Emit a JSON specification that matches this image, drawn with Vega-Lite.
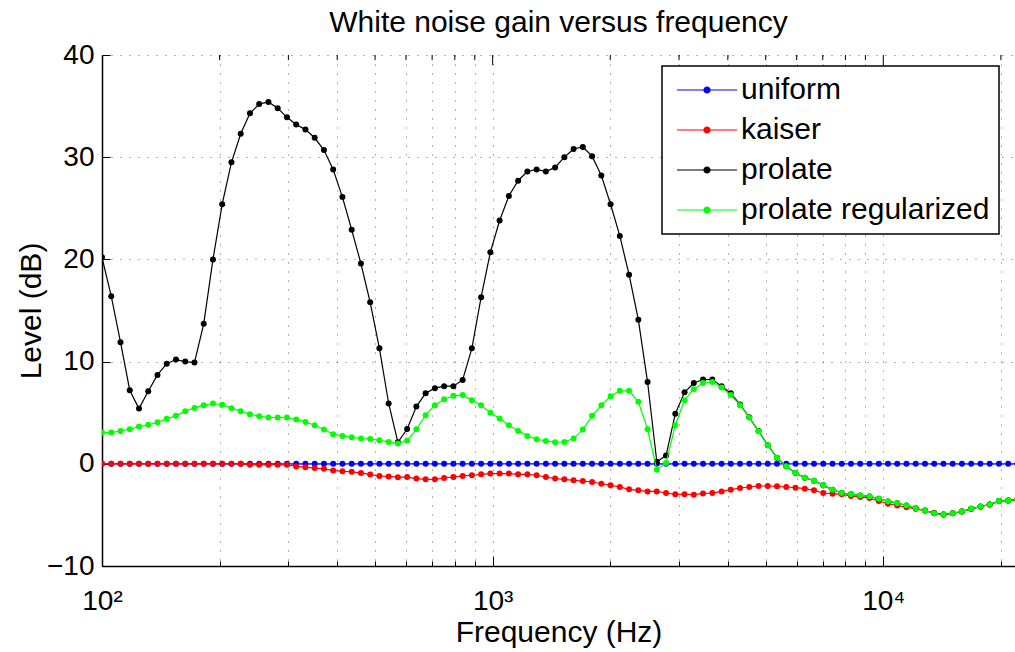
{
  "$schema": "https://vega.github.io/schema/vega-lite/v6.json",
  "width": 913,
  "height": 511,
  "autosize": {"type": "none"},
  "padding": {"left": 102, "top": 55, "right": 0, "bottom": 86},
  "background": "white",
  "title": {"text": "White noise gain versus frequency", "fontSize": 30, "font": "Liberation Sans", "fontWeight": "normal", "color": "black", "anchor": "middle", "baseline": "alphabetic", "offset": -21, "frame": "group"},
  "datasets": {
    "gain": [
      {"f": 100, "uniform": 0, "kaiser": 0, "prolate": 20.2, "prolate regularized": 3.06},
      {"f": 105.6, "uniform": 0, "kaiser": 0, "prolate": 16.4, "prolate regularized": 3.06},
      {"f": 111.52, "uniform": 0, "kaiser": 0, "prolate": 11.9, "prolate regularized": 3.22},
      {"f": 117.76, "uniform": 0, "kaiser": 0, "prolate": 7.2, "prolate regularized": 3.38},
      {"f": 124.36, "uniform": 0, "kaiser": 0, "prolate": 5.4, "prolate regularized": 3.64},
      {"f": 131.33, "uniform": 0, "kaiser": 0, "prolate": 7.1, "prolate regularized": 3.81},
      {"f": 138.68, "uniform": 0, "kaiser": 0, "prolate": 8.7, "prolate regularized": 4.07},
      {"f": 146.45, "uniform": 0, "kaiser": 0, "prolate": 9.8, "prolate regularized": 4.4},
      {"f": 154.66, "uniform": 0, "kaiser": 0, "prolate": 10.2, "prolate regularized": 4.69},
      {"f": 163.32, "uniform": 0, "kaiser": 0, "prolate": 10.0, "prolate regularized": 5.15},
      {"f": 172.47, "uniform": 0, "kaiser": 0, "prolate": 9.9, "prolate regularized": 5.47},
      {"f": 182.13, "uniform": 0, "kaiser": 0, "prolate": 13.7, "prolate regularized": 5.74},
      {"f": 192.33, "uniform": 0, "kaiser": 0, "prolate": 20.0, "prolate regularized": 5.9},
      {"f": 203.11, "uniform": 0, "kaiser": 0, "prolate": 25.4, "prolate regularized": 5.77},
      {"f": 214.48, "uniform": 0, "kaiser": 0, "prolate": 29.5, "prolate regularized": 5.44},
      {"f": 226.5, "uniform": 0, "kaiser": 0, "prolate": 32.3, "prolate regularized": 5.15},
      {"f": 239.19, "uniform": 0, "kaiser": -0.1, "prolate": 34.3, "prolate regularized": 4.85},
      {"f": 252.58, "uniform": 0, "kaiser": -0.1, "prolate": 35.2, "prolate regularized": 4.66},
      {"f": 266.73, "uniform": 0, "kaiser": -0.1, "prolate": 35.4, "prolate regularized": 4.53},
      {"f": 281.67, "uniform": 0, "kaiser": -0.1, "prolate": 34.8, "prolate regularized": 4.53},
      {"f": 297.45, "uniform": 0, "kaiser": -0.1, "prolate": 33.9, "prolate regularized": 4.53},
      {"f": 314.11, "uniform": 0, "kaiser": -0.26, "prolate": 33.2, "prolate regularized": 4.33},
      {"f": 331.71, "uniform": 0, "kaiser": -0.33, "prolate": 32.7, "prolate regularized": 4.1},
      {"f": 350.29, "uniform": 0, "kaiser": -0.42, "prolate": 31.9, "prolate regularized": 3.77},
      {"f": 369.91, "uniform": 0, "kaiser": -0.49, "prolate": 30.7, "prolate regularized": 3.35},
      {"f": 390.63, "uniform": 0, "kaiser": -0.65, "prolate": 28.8, "prolate regularized": 2.89},
      {"f": 412.51, "uniform": 0, "kaiser": -0.74, "prolate": 26.1, "prolate regularized": 2.73},
      {"f": 435.62, "uniform": 0, "kaiser": -0.78, "prolate": 22.9, "prolate regularized": 2.6},
      {"f": 460.02, "uniform": 0, "kaiser": -0.91, "prolate": 19.6, "prolate regularized": 2.47},
      {"f": 485.79, "uniform": 0, "kaiser": -1.04, "prolate": 15.8, "prolate regularized": 2.43},
      {"f": 513.01, "uniform": 0, "kaiser": -1.2, "prolate": 11.3, "prolate regularized": 2.3},
      {"f": 541.75, "uniform": 0, "kaiser": -1.24, "prolate": 5.9, "prolate regularized": 2.14},
      {"f": 572.09, "uniform": 0, "kaiser": -1.31, "prolate": 2.1, "prolate regularized": 1.98},
      {"f": 604.14, "uniform": 0, "kaiser": -1.3, "prolate": 3.4, "prolate regularized": 2.27},
      {"f": 637.98, "uniform": 0, "kaiser": -1.45, "prolate": 5.6, "prolate regularized": 3.38},
      {"f": 673.72, "uniform": 0, "kaiser": -1.52, "prolate": 6.9, "prolate regularized": 4.76},
      {"f": 711.46, "uniform": 0, "kaiser": -1.52, "prolate": 7.4, "prolate regularized": 5.74},
      {"f": 751.31, "uniform": 0, "kaiser": -1.39, "prolate": 7.6, "prolate regularized": 6.32},
      {"f": 793.4, "uniform": 0, "kaiser": -1.29, "prolate": 7.6, "prolate regularized": 6.65},
      {"f": 837.84, "uniform": 0, "kaiser": -1.19, "prolate": 8.2, "prolate regularized": 6.72},
      {"f": 884.77, "uniform": 0, "kaiser": -1.12, "prolate": 11.3, "prolate regularized": 6.23},
      {"f": 934.33, "uniform": 0, "kaiser": -1.03, "prolate": 16.3, "prolate regularized": 5.74},
      {"f": 986.67, "uniform": 0, "kaiser": -0.96, "prolate": 20.7, "prolate regularized": 4.99},
      {"f": 1041.9, "uniform": 0, "kaiser": -0.96, "prolate": 23.8, "prolate regularized": 4.43},
      {"f": 1100.3, "uniform": 0, "kaiser": -0.96, "prolate": 26.2, "prolate regularized": 3.77},
      {"f": 1161.9, "uniform": 0, "kaiser": -1.03, "prolate": 27.7, "prolate regularized": 3.22},
      {"f": 1227, "uniform": 0, "kaiser": -1.03, "prolate": 28.6, "prolate regularized": 2.73},
      {"f": 1295.8, "uniform": 0, "kaiser": -1.12, "prolate": 28.8, "prolate regularized": 2.4},
      {"f": 1368.4, "uniform": 0, "kaiser": -1.29, "prolate": 28.6, "prolate regularized": 2.24},
      {"f": 1445, "uniform": 0, "kaiser": -1.45, "prolate": 29.0, "prolate regularized": 2.11},
      {"f": 1526, "uniform": 0, "kaiser": -1.52, "prolate": 30.0, "prolate regularized": 2.14},
      {"f": 1611.4, "uniform": 0, "kaiser": -1.62, "prolate": 30.8, "prolate regularized": 2.47},
      {"f": 1701.7, "uniform": 0, "kaiser": -1.69, "prolate": 31.0, "prolate regularized": 3.35},
      {"f": 1797, "uniform": 0, "kaiser": -1.78, "prolate": 30.1, "prolate regularized": 4.69},
      {"f": 1897.7, "uniform": 0, "kaiser": -1.95, "prolate": 28.2, "prolate regularized": 5.74},
      {"f": 2004, "uniform": 0, "kaiser": -2.11, "prolate": 25.4, "prolate regularized": 6.62},
      {"f": 2116.2, "uniform": 0, "kaiser": -2.27, "prolate": 22.3, "prolate regularized": 7.14},
      {"f": 2234.8, "uniform": 0, "kaiser": -2.5, "prolate": 18.5, "prolate regularized": 7.14},
      {"f": 2360, "uniform": 0, "kaiser": -2.6, "prolate": 14.1, "prolate regularized": 6.06},
      {"f": 2492.2, "uniform": 0, "kaiser": -2.7, "prolate": 8.0, "prolate regularized": 3.38},
      {"f": 2631.8, "uniform": 0, "kaiser": -2.7, "prolate": 0.2, "prolate regularized": -0.57},
      {"f": 2779.2, "uniform": 0, "kaiser": -2.86, "prolate": 0.8, "prolate regularized": 0.08},
      {"f": 2934.9, "uniform": 0, "kaiser": -2.99, "prolate": 4.9, "prolate regularized": 3.77},
      {"f": 3099.3, "uniform": 0, "kaiser": -2.99, "prolate": 7.0, "prolate regularized": 6.23},
      {"f": 3272.9, "uniform": 0, "kaiser": -3.02, "prolate": 7.9, "prolate regularized": 7.3},
      {"f": 3456.2, "uniform": 0, "kaiser": -2.9, "prolate": 8.25, "prolate regularized": 7.9},
      {"f": 3649.8, "uniform": 0, "kaiser": -2.86, "prolate": 8.25, "prolate regularized": 8.0},
      {"f": 3854.3, "uniform": 0, "kaiser": -2.7, "prolate": 7.6, "prolate regularized": 7.47},
      {"f": 4070.2, "uniform": 0, "kaiser": -2.53, "prolate": 6.9, "prolate regularized": 6.72},
      {"f": 4298.2, "uniform": 0, "kaiser": -2.37, "prolate": 5.8, "prolate regularized": 5.74},
      {"f": 4539, "uniform": 0, "kaiser": -2.27, "prolate": 4.55, "prolate regularized": 4.53},
      {"f": 4793.3, "uniform": 0, "kaiser": -2.17, "prolate": 3.2, "prolate regularized": 3.19},
      {"f": 5061.8, "uniform": 0, "kaiser": -2.17, "prolate": 1.82, "prolate regularized": 1.81},
      {"f": 5345.3, "uniform": 0, "kaiser": -2.2, "prolate": 0.6, "prolate regularized": 0.6},
      {"f": 5644.7, "uniform": 0, "kaiser": -2.27, "prolate": -0.25, "prolate regularized": -0.25},
      {"f": 5960.9, "uniform": 0, "kaiser": -2.34, "prolate": -0.91, "prolate regularized": -0.91},
      {"f": 6294.9, "uniform": 0, "kaiser": -2.43, "prolate": -1.37, "prolate regularized": -1.37},
      {"f": 6647.5, "uniform": 0, "kaiser": -2.6, "prolate": -1.65, "prolate regularized": -1.65},
      {"f": 7019.9, "uniform": 0, "kaiser": -2.86, "prolate": -2.11, "prolate regularized": -2.11},
      {"f": 7413.1, "uniform": 0, "kaiser": -2.92, "prolate": -2.53, "prolate regularized": -2.53},
      {"f": 7828.4, "uniform": 0, "kaiser": -2.99, "prolate": -2.86, "prolate regularized": -2.86},
      {"f": 8266.9, "uniform": 0, "kaiser": -3.15, "prolate": -2.99, "prolate regularized": -2.99},
      {"f": 8730, "uniform": 0, "kaiser": -3.25, "prolate": -3.09, "prolate regularized": -3.09},
      {"f": 9219, "uniform": 0, "kaiser": -3.35, "prolate": -3.19, "prolate regularized": -3.19},
      {"f": 9735.4, "uniform": 0, "kaiser": -3.65, "prolate": -3.42, "prolate regularized": -3.42},
      {"f": 10281, "uniform": 0, "kaiser": -3.91, "prolate": -3.68, "prolate regularized": -3.68},
      {"f": 10857, "uniform": 0, "kaiser": -4.08, "prolate": -3.85, "prolate regularized": -3.85},
      {"f": 11465, "uniform": 0, "kaiser": -4.25, "prolate": -4.08, "prolate regularized": -4.08},
      {"f": 12107, "uniform": 0, "kaiser": -4.41, "prolate": -4.35, "prolate regularized": -4.35},
      {"f": 12785, "uniform": 0, "kaiser": -4.58, "prolate": -4.58, "prolate regularized": -4.58},
      {"f": 13502, "uniform": 0, "kaiser": -4.8, "prolate": -4.84, "prolate regularized": -4.84},
      {"f": 14258, "uniform": 0, "kaiser": -4.97, "prolate": -4.97, "prolate regularized": -4.97},
      {"f": 15057, "uniform": 0, "kaiser": -4.84, "prolate": -4.84, "prolate regularized": -4.84},
      {"f": 15900, "uniform": 0, "kaiser": -4.67, "prolate": -4.67, "prolate regularized": -4.67},
      {"f": 16791, "uniform": 0, "kaiser": -4.41, "prolate": -4.41, "prolate regularized": -4.41},
      {"f": 17731, "uniform": 0, "kaiser": -4.2, "prolate": -4.18, "prolate regularized": -4.18},
      {"f": 18724, "uniform": 0, "kaiser": -3.98, "prolate": -3.98, "prolate regularized": -3.98},
      {"f": 19773, "uniform": 0, "kaiser": -3.65, "prolate": -3.65, "prolate regularized": -3.65},
      {"f": 20881, "uniform": 0, "kaiser": -3.58, "prolate": -3.58, "prolate regularized": -3.58},
      {"f": 22050, "uniform": 0, "kaiser": -3.5, "prolate": -3.5, "prolate regularized": -3.5}
    ],
    "minorTicks": [{"f": 200}, {"f": 300}, {"f": 400}, {"f": 500}, {"f": 600}, {"f": 700}, {"f": 800}, {"f": 900}, {"f": 2000}, {"f": 3000}, {"f": 4000}, {"f": 5000}, {"f": 6000}, {"f": 7000}, {"f": 8000}, {"f": 9000}, {"f": 20000}],
    "majorTicks": [{"f": 1000}, {"f": 10000}]
  },
  "layer": [
    {
      "data": {"name": "gain"},
      "transform": [{"fold": ["uniform", "kaiser", "prolate", "prolate regularized"], "as": ["series", "level"]}, {"filter": "datum.series == 'uniform'"}],
      "mark": {"type": "line", "strokeWidth": 1.2, "clip": true, "point": {"filled": true, "size": 36}},
      "encoding": {
        "x": {"field": "f", "type": "quantitative", "scale": {"type": "log", "domain": [100, 21735], "nice": false},
          "axis": {"orient": "bottom", "values": [100, 200, 300, 400, 500, 600, 700, 800, 900, 1000, 2000, 3000, 4000, 5000, 6000, 7000, 8000, 9000, 10000, 20000],
            "labelExpr": "datum.value == 100 ? '10²' : datum.value == 1000 ? '10³' : datum.value == 10000 ? '10⁴' : ''",
            "tickSize": {"condition": {"test": "datum.value == 100 || datum.value == 1000 || datum.value == 10000", "value": -10}, "value": -5},
            "tickColor": "black", "tickWidth": 1, "domainColor": "black", "domainWidth": 1.5,
            "labelFontSize": 28, "labelFont": "Liberation Sans", "labelColor": "black", "labelPadding": 31, "labelFlush": false, "labelOverlap": false, "labelBound": false,
            "grid": true, "gridColor": "#000000", "gridDash": [1, 8], "gridOpacity": 0.6, "gridWidth": 1,
            "title": "Frequency (Hz)", "titleFontSize": 30, "titleFont": "Liberation Sans", "titleFontWeight": "normal", "titleColor": "black", "titlePadding": -3}},
        "y": {"field": "level", "type": "quantitative", "scale": {"domain": [-10, 40], "nice": false},
          "axis": {"values": [-10, 0, 10, 20, 30, 40], "tickSize": -8, "tickColor": "black", "domainColor": "black", "domainWidth": 1.5,
            "labelFontSize": 28, "labelFont": "Liberation Sans", "labelColor": "black", "labelPadding": 16, "labelFlush": false, "labelOverlap": false,
            "grid": true, "gridColor": "#000000", "gridDash": [1, 8], "gridOpacity": 0.6, "gridWidth": 1,
            "title": "Level (dB)", "titleFontSize": 30, "titleFont": "Liberation Sans", "titleFontWeight": "normal", "titleColor": "black", "titlePadding": 0}},
        "color": {"field": "series", "type": "nominal",
          "scale": {"domain": ["uniform", "kaiser", "prolate", "prolate regularized"], "range": ["#0000ff", "#ff0000", "#000000", "#00ff00"]},
          "legend": {"title": null, "orient": "none", "legendX": 560, "legendY": 11,
            "symbolType": "M-3,0L3,0M-0.3,0A0.3,0.3,0,1,0,0.3,0A0.3,0.3,0,1,0,-0.3,0Z",
            "symbolSize": 400, "symbolStrokeWidth": 1.2, "symbolOffset": 21,
            "labelFontSize": 30, "labelFont": "Liberation Sans", "labelColor": "black", "labelOffset": 19, "labelLimit": 400,
            "rowPadding": 10, "padding": 9, "strokeColor": "black", "fillColor": "white",
            "encode": {"symbols": {"update": {"fill": {"scale": "color", "field": "value"}, "stroke": {"scale": "color", "field": "value"}, "opacity": {"value": 1}}},
                       "legend": {"update": {"strokeWidth": {"value": 1.5}}}}}}
      }
    },
    {
      "data": {"name": "gain"},
      "transform": [{"fold": ["uniform", "kaiser", "prolate", "prolate regularized"], "as": ["series", "level"]}, {"filter": "datum.series == 'kaiser'"}],
      "mark": {"type": "line", "strokeWidth": 1.2, "clip": true, "point": {"filled": true, "size": 36}},
      "encoding": {
        "x": {"field": "f", "type": "quantitative"},
        "y": {"field": "level", "type": "quantitative"},
        "color": {"field": "series", "type": "nominal"}
      }
    },
    {
      "data": {"name": "gain"},
      "transform": [{"fold": ["uniform", "kaiser", "prolate", "prolate regularized"], "as": ["series", "level"]}, {"filter": "datum.series == 'prolate'"}],
      "mark": {"type": "line", "strokeWidth": 1.2, "clip": true, "point": {"filled": true, "size": 36}},
      "encoding": {
        "x": {"field": "f", "type": "quantitative"},
        "y": {"field": "level", "type": "quantitative"},
        "color": {"field": "series", "type": "nominal"}
      }
    },
    {
      "data": {"name": "gain"},
      "transform": [{"fold": ["uniform", "kaiser", "prolate", "prolate regularized"], "as": ["series", "level"]}, {"filter": "datum.series == 'prolate regularized'"}],
      "mark": {"type": "line", "strokeWidth": 1.2, "clip": true, "point": {"filled": true, "size": 36}},
      "encoding": {
        "x": {"field": "f", "type": "quantitative"},
        "y": {"field": "level", "type": "quantitative"},
        "color": {"field": "series", "type": "nominal"}
      }
    },
    {
      "mark": {"type": "rule", "color": "black", "strokeWidth": 1.5},
      "encoding": {"y": {"datum": 40}}
    },
    {
      "data": {"name": "minorTicks"},
      "mark": {"type": "rule", "color": "black", "strokeWidth": 1},
      "encoding": {"x": {"field": "f", "type": "quantitative"}, "y": {"datum": 40}, "y2": {"datum": 39.5}}
    },
    {
      "data": {"name": "majorTicks"},
      "mark": {"type": "rule", "color": "black", "strokeWidth": 1},
      "encoding": {"x": {"field": "f", "type": "quantitative"}, "y": {"datum": 40}, "y2": {"datum": 39.02}}
    }
  ],
  "config": {"view": {"stroke": null}}
}
